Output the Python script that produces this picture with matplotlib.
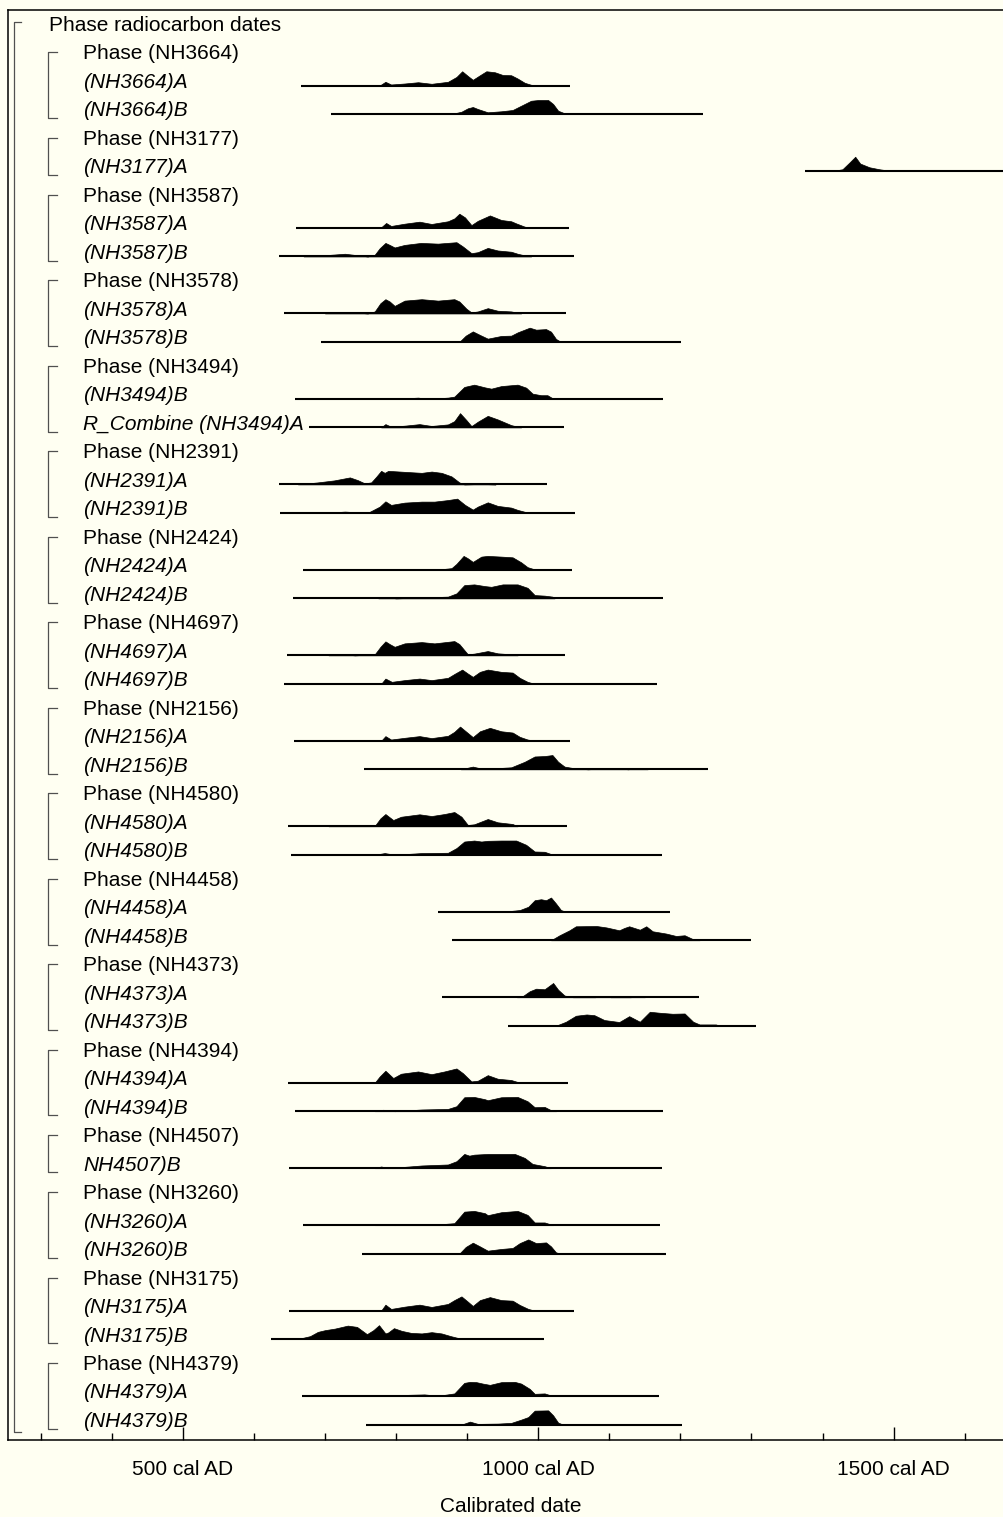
import matplotlib
matplotlib.use("Agg")
import matplotlib.pyplot as plt
from matplotlib.transforms import blended_transform_factory
from matplotlib.ticker import MultipleLocator

plt.rcParams['font.family'] = ['Liberation Sans', 'DejaVu Sans']

# phases and the dates inside them, top to bottom
phases = ["NH3664", "NH3177", "NH3587", "NH3578", "NH3494", "NH2391", "NH2424", "NH4697",
          "NH2156", "NH4580", "NH4458", "NH4373", "NH4394", "NH4507", "NH3260", "NH3175", "NH4379"]
entries = [["(NH3664)A", "(NH3664)B"], ["(NH3177)A"], ["(NH3587)A", "(NH3587)B"],
           ["(NH3578)A", "(NH3578)B"], ["(NH3494)B", "R_Combine (NH3494)A"],
           ["(NH2391)A", "(NH2391)B"], ["(NH2424)A", "(NH2424)B"], ["(NH4697)A", "(NH4697)B"],
           ["(NH2156)A", "(NH2156)B"], ["(NH4580)A", "(NH4580)B"], ["(NH4458)A", "(NH4458)B"],
           ["(NH4373)A", "(NH4373)B"], ["(NH4394)A", "(NH4394)B"], ["NH4507)B"],
           ["(NH3260)A", "(NH3260)B"], ["(NH3175)A", "(NH3175)B"], ["(NH4379)A", "(NH4379)B"]]

# calibrated range lines (cal AD)
ranges = {
    "(NH3664)A": (666, 1045), "(NH3664)B": (708, 1232), "(NH3177)A": (1376, 1700),
    "(NH3587)A": (659, 1043), "(NH3587)B": (635, 1050), "(NH3578)A": (643, 1039),
    "(NH3578)B": (695, 1201), "(NH3494)B": (658, 1176), "R_Combine (NH3494)A": (678, 1036),
    "(NH2391)A": (635, 1013), "(NH2391)B": (637, 1052), "(NH2424)A": (669, 1048),
    "(NH2424)B": (655, 1175), "(NH4697)A": (647, 1038), "(NH4697)B": (643, 1167),
    "(NH2156)A": (656, 1045), "(NH2156)B": (755, 1239), "(NH4580)A": (648, 1040),
    "(NH4580)B": (652, 1174), "(NH4458)A": (859, 1185), "(NH4458)B": (878, 1300),
    "(NH4373)A": (865, 1226), "(NH4373)B": (957, 1307), "(NH4394)A": (648, 1042),
    "(NH4394)B": (658, 1176), "NH4507)B": (650, 1174), "(NH3260)A": (669, 1172),
    "(NH3260)B": (752, 1180), "(NH3175)A": (650, 1051), "(NH3175)B": (624, 1008),
    "(NH4379)A": (668, 1170), "(NH4379)B": (757, 1202),
}

# probability outlines: (year, relative height)
nh3664_a = [(777, 0), (785, .26), (793, .07), (812, .14), (831, .23), (850, .12), (873, .26), (885, .6),
            (893, 1), (901, .67), (908, .4), (918, .72), (927, 1), (939, .93), (950, .74), (962, .72),
            (971, .49), (981, .19), (990, .05), (1000, 0)]
nh3664_b = [(878, 0), (892, .16), (901, .4), (908, .49), (915, .35), (929, .12), (948, .19), (964, .28),
            (976, .58), (990, .93), (1000, .98), (1014, .98), (1021, .7), (1028, .23), (1037, .05),
            (1051, 0), (1070, .02), (1150, .02), (1160, 0)]
nh3177_a = [(1414, 0), (1428, .12), (1438, .6), (1446, 1), (1453, .52), (1466, .26), (1480, .12),
            (1494, .02), (1520, 0), (1598, 0), (1607, .04), (1616, 0)]
nh3587_a = [(778, 0), (786, .35), (793, .14), (812, .3), (833, .44), (850, .28), (873, .47), (882, .67),
            (889, 1), (897, .74), (906, .2), (915, .5), (932, .88), (948, .56), (962, .47), (969, .32),
            (981, .09), (990, 0)]
nh3587_b = [(670, 0), (690, .05), (728, .19), (760, 0), (770, .12), (777, .58), (785, .95), (791, .81),
            (798, .63), (812, .81), (835, .95), (859, .9), (885, 1), (894, .7), (906, .23), (915, .3),
            (929, .6), (943, .42), (962, .33), (971, .19), (983, .05), (990, 0)]
nh3578_a = [(700, 0), (718, .07), (737, .09), (760, 0), (770, .14), (778, .72), (785, 1), (791, .84),
            (798, .53), (812, .9), (836, 1), (859, .9), (882, 1), (889, .84), (899, .33), (906, .07),
            (915, .14), (929, .37), (943, .19), (962, .14), (976, 0)]
nh3578_b = [(889, 0), (898, .44), (908, .74), (918, .49), (929, .23), (948, .42), (962, .44), (971, .67),
            (988, 1), (997, .86), (1011, .9), (1018, .72), (1025, .21), (1032, 0)]
nh3494_b = [(770, 0), (784, .07), (798, 0), (831, .09), (845, 0), (873, .09), (882, .16), (896, .84),
            (910, 1), (925, .81), (934, .72), (948, .9), (971, 1), (983, .79), (992, .37), (1004, .26),
            (1013, .26), (1021, .02), (1023, 0)]
nh3494_a = [(779, 0), (785, .23), (793, .05), (812, .12), (833, .23), (850, .1), (873, .21), (882, .44),
            (890, 1), (899, .51), (906, .09), (915, .4), (929, .81), (943, .56), (962, .16), (971, .05),
            (976, 0)]
nh2391_a = [(662, 0), (690, .14), (713, .28), (735, .49), (746, .3), (756, .07), (765, .14), (772, .53),
            (779, .95), (784, .81), (789, .95), (812, .88), (836, .81), (850, .9), (864, .81), (878, .56),
            (889, .14), (896, 0), (920, .03), (940, 0)]
nh2391_b = [(700, 0), (728, .09), (760, 0), (777, .44), (785, .81), (793, .56), (812, .72), (836, .79),
            (854, .79), (873, .9), (886, 1), (897, .56), (908, .23), (915, .44), (929, .74), (943, .49),
            (962, .37), (971, .21), (983, .05), (990, 0)]
nh2424_a = [(775, 0), (785, .07), (795, 0), (831, .07), (859, .02), (878, .12), (885, .42), (895, .98),
            (901, .81), (908, .56), (920, .93), (929, .98), (948, .93), (964, .88), (976, .53), (985, .19),
            (997, 0)]
nh2424_b = [(775, 0), (784, .09), (800, 0), (873, .12), (885, .35), (896, .93), (910, .98), (925, .86),
            (934, .81), (950, .98), (971, .98), (985, .74), (995, .23), (1009, .19), (1020, .12), (1023, 0)]
nh4697_a = [(705, 0), (721, .09), (742, 0), (770, .07), (778, .6), (785, .98), (791, .79), (798, .6),
            (812, .84), (836, .93), (854, .84), (882, 1), (889, .79), (901, .07), (910, .12), (929, .3),
            (943, .14), (962, .07), (971, 0)]
nh4697_b = [(779, 0), (785, .37), (794, .14), (812, .26), (833, .37), (850, .26), (873, .42), (883, .72),
            (893, 1), (901, .72), (908, .49), (918, .84), (929, 1), (948, .84), (964, .79), (974, .42),
            (985, .14), (995, 0)]
nh2156_a = [(779, 0), (785, .33), (793, .09), (812, .21), (833, .33), (850, .19), (873, .35), (882, .63),
            (890, 1), (899, .63), (908, .26), (918, .67), (932, .91), (948, .67), (964, .58), (974, .28),
            (985, .09), (995, 0)]
nh2156_b = [(891, 0), (908, .19), (920, .05), (939, .07), (962, .14), (981, .53), (995, .9), (1009, .93),
            (1020, 1), (1028, .53), (1037, .19), (1051, .07), (1070, 0), (1093, .07), (1112, .1),
            (1126, 0), (1145, .09), (1154, 0)]
nh4580_a = [(705, 0), (721, .09), (742, .02), (770, .02), (778, .56), (785, .86), (796, .44), (807, .67),
            (833, .84), (850, .72), (868, .86), (882, 1), (892, .67), (901, .09), (910, .14), (929, .51),
            (943, .28), (964, .16), (971, 0)]
nh4580_b = [(770, 0), (784, .12), (798, 0), (836, .12), (873, .14), (885, .47), (896, .93), (910, 1),
            (920, .93), (929, .98), (948, 1), (969, 1), (983, .7), (995, .23), (1009, .21), (1018, .05),
            (1023, 0)]
nh4458_a = [(880, 0), (903, .05), (950, 0), (974, .12), (986, .35), (995, .81), (1004, .88), (1011, .81),
            (1018, 1), (1025, .58), (1032, .12), (1039, 0), (1091, .05), (1110, 0)]
nh4458_b = [(1018, 0), (1030, .35), (1044, .7), (1053, .98), (1082, 1), (1096, .9), (1114, .7),
            (1121, .86), (1128, .98), (1143, .74), (1152, .98), (1161, .63), (1180, .47), (1194, .3),
            (1206, .35), (1218, .07), (1227, 0)]
nh4373_a = [(970, 0), (978, .07), (988, .42), (997, .6), (1009, .56), (1021, 1), (1028, .53), (1037, .12),
            (1049, 0), (1080, 0), (1091, .09), (1102, 0), (1130, 0), (1140, .07), (1150, 0)]
nh4373_b = [(1025, 0), (1039, .28), (1053, .7), (1068, .79), (1079, .74), (1093, .4), (1114, .26),
            (1128, .67), (1143, .28), (1157, .98), (1171, .91), (1189, .84), (1206, .86), (1218, .28),
            (1227, .09), (1250, .09), (1255, 0)]
nh4394_a = [(770, 0), (777, .44), (785, .84), (796, .33), (807, .63), (831, .79), (850, .6), (868, .79),
            (885, 1), (894, .67), (906, .09), (915, .14), (929, .53), (943, .28), (962, .19), (971, .05),
            (976, 0)]
nh4394_b = [(770, 0), (782, .1), (798, 0), (836, .12), (873, .16), (885, .35), (896, .98), (910, 1),
            (925, .84), (929, .77), (948, .98), (971, 1), (985, .7), (995, .28), (1009, .3), (1020, .02),
            (1025, 0)]
nh4507_b = [(770, 0), (779, .12), (789, 0), (836, .19), (873, .26), (885, .49), (896, 1), (903, .88),
            (910, .95), (929, 1), (967, 1), (981, .72), (992, .3), (1009, .14), (1018, 0)]
nh3260_a = [(770, 0), (784, .07), (798, 0), (831, .09), (859, .05), (882, .14), (896, .95), (910, 1),
            (925, .84), (929, .7), (948, .91), (971, 1), (985, .72), (995, .19), (1009, .19), (1021, 0)]
nh3260_b = [(889, 0), (898, .47), (908, .77), (918, .51), (929, .21), (948, .33), (964, .4), (974, .74),
            (986, 1), (997, .74), (1011, .79), (1018, .51), (1025, .09), (1032, 0)]
nh3175_a = [(779, 0), (785, .42), (793, .12), (812, .28), (833, .42), (850, .26), (873, .47), (882, .74),
            (892, 1), (901, .63), (908, .33), (918, .74), (932, .95), (948, .74), (964, .7), (974, .4),
            (986, .12), (995, 0)]
nh3175_b = [(650, 0), (667, .07), (679, .21), (690, .51), (700, .63), (714, .74), (732, .95), (745, .86),
            (759, .35), (768, .63), (776, .98), (785, .4), (789, .47), (797, .77), (808, .58), (821, .44),
            (836, .4), (850, .49), (864, .4), (877, .21), (892, .02), (896, 0)]
nh4379_a = [(770, 0), (782, .07), (798, 0), (817, .09), (840, .12), (859, .02), (882, .19), (896, .93),
            (904, 1), (913, .98), (922, .88), (932, .79), (948, .98), (967, 1), (976, .88), (988, .51),
            (995, .16), (1009, .19), (1021, 0)]
nh4379_b = [(892, 0), (904, .21), (915, .05), (943, .07), (962, .12), (976, .35), (986, .53), (995, .98),
            (1014, 1), (1021, .65), (1028, .14), (1035, 0)]

shapes = {
    "(NH3664)A": nh3664_a, "(NH3664)B": nh3664_b, "(NH3177)A": nh3177_a,
    "(NH3587)A": nh3587_a, "(NH3587)B": nh3587_b, "(NH3578)A": nh3578_a, "(NH3578)B": nh3578_b,
    "(NH3494)B": nh3494_b, "R_Combine (NH3494)A": nh3494_a, "(NH2391)A": nh2391_a,
    "(NH2391)B": nh2391_b, "(NH2424)A": nh2424_a, "(NH2424)B": nh2424_b, "(NH4697)A": nh4697_a,
    "(NH4697)B": nh4697_b, "(NH2156)A": nh2156_a, "(NH2156)B": nh2156_b, "(NH4580)A": nh4580_a,
    "(NH4580)B": nh4580_b, "(NH4458)A": nh4458_a, "(NH4458)B": nh4458_b, "(NH4373)A": nh4373_a,
    "(NH4373)B": nh4373_b, "(NH4394)A": nh4394_a, "(NH4394)B": nh4394_b, "NH4507)B": nh4507_b,
    "(NH3260)A": nh3260_a, "(NH3260)B": nh3260_b, "(NH3175)A": nh3175_a, "(NH3175)B": nh3175_b,
    "(NH4379)A": nh4379_a, "(NH4379)B": nh4379_b,
}

major_ticks = [500, 1000, 1500]
major_labels = ["500 cal AD", "1000 cal AD", "1500 cal AD"]

W, H = 1004, 1517
bg = '#FFFFF2'
fig = plt.figure(figsize=(W / 100, H / 100), dpi=100)
fig.patch.set_facecolor(bg)
ax = fig.add_axes([8 / W, 1 - 1440 / H, (1013 - 8) / W, (1440 - 10) / H])
ax.set_facecolor(bg)
ax.set_xlim(254, 1668)
ax.set_ylim(49.70, -0.49)

for side in ['left', 'top', 'bottom']:
    ax.spines[side].set_linewidth(1.1)
ax.spines['right'].set_visible(False)

ax.set_yticks([])
ax.set_xticks(major_ticks)
ax.set_xticklabels(major_labels)
ax.xaxis.set_minor_locator(MultipleLocator(100))
ax.tick_params(axis='x', which='major', direction='in', length=9.5, width=1, labelsize=15, pad=14.5)
ax.tick_params(axis='x', which='minor', direction='in', length=5, width=1)
ax.set_xlabel("Calibrated date", fontsize=15, labelpad=13)

tr = blended_transform_factory(fig.transFigure, ax.transData)
bracket_col = '#505050'

# overall phase
ax.text(49 / W, 0.05, "Phase radiocarbon dates", transform=tr, fontsize=15, va='center', ha='left')
row = 1
for name, items in zip(phases, entries):
    top = row
    ax.text(83 / W, row + 0.05, f"Phase ({name})", transform=tr, fontsize=15, va='center', ha='left')
    row += 1
    for lab in items:
        ax.text(83 / W, row + 0.05, lab, transform=tr, fontsize=15, va='center', ha='left', style='italic')
        base = row + 0.16
        start, end = ranges[lab]
        ax.plot([start, end], [base, base], color='black', lw=1.5, solid_capstyle='butt')
        years = [p[0] for p in shapes[lab]]
        hts = [base - 0.5 * p[1] for p in shapes[lab]]
        ax.fill_between(years, base, hts, color='black', lw=0.5, edgecolor='black')
        row += 1
    bottom = row - 1 + 0.31
    ax.plot([57 / W, 48 / W, 48 / W, 57 / W], [top, top, bottom, bottom], transform=tr,
            color=bracket_col, lw=0.9, clip_on=False)

ax.plot([21 / W, 14 / W, 14 / W, 21 / W], [-0.07, -0.07, row - 1 + 0.42, row - 1 + 0.42], transform=tr,
        color=bracket_col, lw=0.9, clip_on=False)

fig.savefig("out.png", dpi=100, facecolor=bg)
